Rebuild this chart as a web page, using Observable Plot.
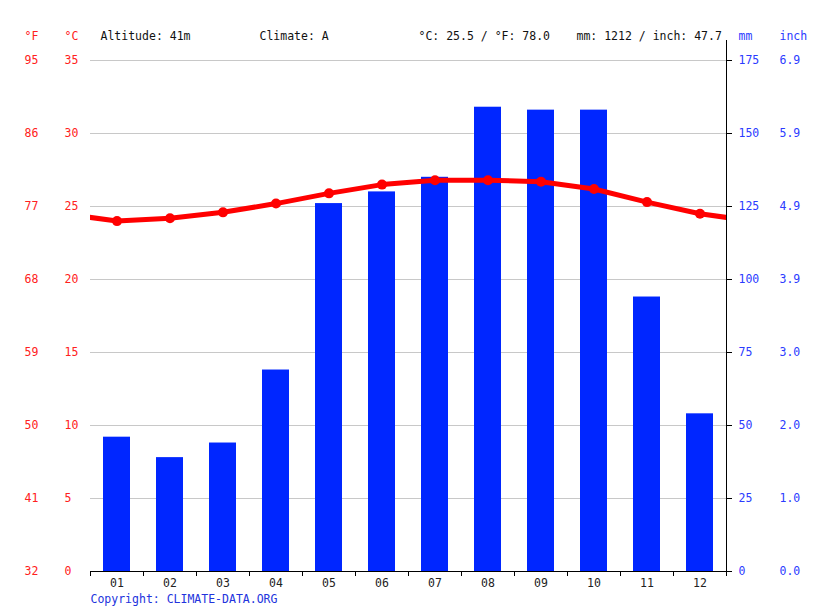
<!DOCTYPE html>
<html>
<head>
<meta charset="utf-8">
<script src="https://cdn.jsdelivr.net/npm/d3@7"></script>
<script src="https://cdn.jsdelivr.net/npm/@observablehq/plot@0.6"></script>
<style>
  html, body { margin: 0; padding: 0; background: #fff; }
</style>
</head>
<body>
<div id="chart"></div>
<script>
const months = [1, 2, 3, 4, 5, 6, 7, 8, 9, 10, 11, 12];
const monthLabels = ["01", "02", "03", "04", "05", "06", "07", "08", "09", "10", "11", "12"];
const precipMm = [46, 39, 44, 69, 126, 130, 135, 159, 158, 158, 94, 54];
const tempC = [24.0, 24.2, 24.6, 25.2, 25.9, 26.5, 26.8, 26.8, 26.7, 26.2, 25.3, 24.5];
const tempTicksC = [0, 5, 10, 15, 20, 25, 30, 35];
const headerTexts = ["Altitude: 41m", "Climate: A", "°C: 25.5 / °F: 78.0", "mm: 1212 / inch: 47.7"];

const MM_PER_C = 5; // 175 mm aligns with 35 °C
const rows = months.map((m, i) => ({m, label: monthLabels[i], mm: precipMm[i], t: tempC[i]}));
// wrap-around so the line runs to the plot edges (clipped)
const lineRows = [{m: 0, t: tempC[11]}, ...rows, {m: 13, t: tempC[0]}];

const font = "DejaVu Sans Mono, monospace";
const red = "#ff2020";
const blue = "#2b3bff";
const hdr = [
  {text: "°F", dx: -66, fill: red},
  {text: "°C", dx: -26, fill: red},
  {text: headerTexts[0], dx: 10, fill: "#111"},
  {text: headerTexts[1], dx: 169, fill: "#111"},
  {text: headerTexts[2], dx: 328, fill: "#111"},
  {text: headerTexts[3], dx: 486, fill: "#111"},
  {text: "mm", dx: 648, fill: blue},
  {text: "inch", dx: 689, fill: blue}
];

const chart = Plot.plot({
  width: 815,
  height: 611,
  marginLeft: 90,
  marginRight: 89,
  marginTop: 60,
  marginBottom: 40,
  style: {fontFamily: font, fontSize: "11.5px", background: "#fff"},
  x: {type: "linear", domain: [0.5, 12.5]},
  y: {domain: [0, 35]},
  marks: [
    Plot.gridY({ticks: tempTicksC.slice(1), stroke: "#c8c8c8", strokeOpacity: 1, strokeWidth: 1}),
    Plot.rectY(rows, {x1: d => d.m - 0.5, x2: d => d.m + 0.5, y: d => d.mm / MM_PER_C, insetLeft: 13, insetRight: 13, fill: "#0026ff"}),
    Plot.line(lineRows, {x: "m", y: "t", stroke: "#ff0000", strokeWidth: 5, clip: true}),
    Plot.dot(rows, {x: "m", y: "t", r: 5, fill: "#ff0000"}),
    // axis lines
    Plot.ruleY([0], {stroke: "#000", strokeWidth: 1}),
    Plot.ruleX([12.5], {y1: 35, y2: 0, insetTop: -20, stroke: "#000", strokeWidth: 1}),
    // bottom ticks at month boundaries
    Plot.axisX({ticks: d3.range(0.5, 13, 1), tickSize: 5, tickFormat: () => "", stroke: "#000", label: null}),
    Plot.axisX({ticks: months, tickSize: 0, tickPadding: 7, tickFormat: d => monthLabels[d - 1], fill: "#222", label: null}),
    // left axes
    Plot.axisY({anchor: "left", ticks: tempTicksC, tickSize: 0, tickPadding: 0, textAnchor: "start", dx: -66, tickFormat: d => String(Math.round(d * 9 / 5 + 32)), fill: red, label: null}),
    Plot.axisY({anchor: "left", ticks: tempTicksC, tickSize: 0, tickPadding: 0, textAnchor: "start", dx: -26, tickFormat: d => String(d), fill: red, label: null}),
    // right axes
    Plot.axisY({anchor: "right", ticks: tempTicksC, tickSize: 5, tickPadding: 7, textAnchor: "start", tickFormat: d => String(d * MM_PER_C), fill: blue, stroke: "#000", label: null}),
    Plot.axisY({anchor: "right", ticks: tempTicksC, tickSize: 0, tickPadding: 0, textAnchor: "start", dx: 53, tickFormat: d => (d * MM_PER_C / 25.4).toFixed(1), fill: blue, label: null}),
    // header
    ...hdr.map(h => Plot.text([h.text], {frameAnchor: "top-left", dx: h.dx, dy: -24, fill: h.fill, textAnchor: "start", lineAnchor: "middle"})),
    Plot.text(["Copyright: CLIMATE-DATA.ORG"], {frameAnchor: "bottom-left", dy: 28, textAnchor: "start", lineAnchor: "middle", fill: "#2233dd"})
  ]
});
document.getElementById("chart").appendChild(chart);
</script>
</body>
</html>
